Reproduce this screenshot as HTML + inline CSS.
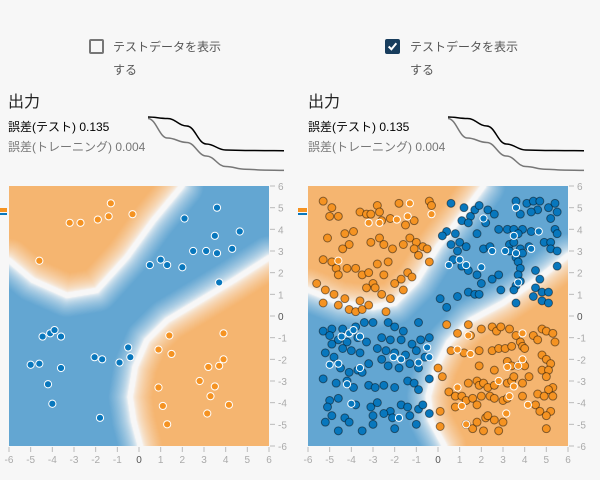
<!DOCTYPE html>
<html><head><meta charset="utf-8">
<style>
body{margin:0;width:600px;height:480px;background:#f7f7f7;font-family:"Liberation Sans","Noto Sans CJK JP",sans-serif;overflow:hidden;position:relative}
.t{position:absolute;white-space:nowrap}
.cb{position:absolute;width:15px;height:15px;border:2px solid #777;border-radius:2px;box-sizing:border-box}
canvas{position:absolute}
svg{position:absolute;left:0;top:0}
</style></head><body>
<div class="cb" style="left:89px;top:39px"></div>
<div class="t" style="left:113px;top:38px;font-size:12px;color:#555">テストデータを表示</div>
<div class="t" style="left:113px;top:61px;font-size:12px;color:#555">する</div>
<div class="cb" style="left:385px;top:39px;background:#183d5d;border-color:#183d5d"><svg width="11" height="11" viewBox="0 0 10 10"><path d="M1.5 5 L4 7.5 L8.5 2" stroke="#fff" stroke-width="1.8" fill="none"/></svg></div>
<div class="t" style="left:410px;top:38px;font-size:12px;color:#555">テストデータを表示</div>
<div class="t" style="left:410px;top:61px;font-size:12px;color:#555">する</div>

<div class="t" style="left:8px;top:88px;font-size:16px;color:#222">出力</div>
<div class="t" style="left:8px;top:118px;font-size:12px;color:#000">誤差(テスト) 0.135</div>
<div class="t" style="left:8px;top:138px;font-size:12px;color:#777">誤差(トレーニング) 0.004</div>
<div class="t" style="left:308px;top:88px;font-size:16px;color:#222">出力</div>
<div class="t" style="left:308px;top:118px;font-size:12px;color:#000">誤差(テスト) 0.135</div>
<div class="t" style="left:308px;top:138px;font-size:12px;color:#777">誤差(トレーニング) 0.004</div>

<canvas id="c0" width="260" height="260" style="left:9px;top:186px"></canvas>
<canvas id="c1" width="260" height="260" style="left:308px;top:186px"></canvas>
<svg id="ov" width="600" height="480"></svg>

<script>
// ---- data ----
const trainOrange=[[-3.2,4.3],[-2.7,4.3],[-1.9,4.45],[-1.4,4.6],[-1.3,5.2],[-0.3,4.7],[-4.6,2.55],[1.4,-0.9],[0.9,-1.55],[1.5,-1.75],[3.9,-0.8],[3.9,-2.0],[3.2,-2.35],[3.7,-2.3],[2.8,-3.0],[3.5,-3.25],[0.9,-3.3],[3.3,-3.7],[1.1,-4.15],[4.15,-4.1],[3.15,-4.5],[1.3,-5.0]];
const trainBlue=[[3.6,5.0],[2.1,4.5],[4.65,3.9],[3.5,3.7],[2.5,3.0],[3.1,3.0],[3.6,2.9],[4.3,3.1],[1.0,2.6],[0.5,2.35],[1.3,2.35],[2.0,2.25],[3.7,1.55],[-4.45,-0.95],[-4.1,-0.8],[-3.9,-0.65],[-3.6,-0.95],[-0.5,-1.45],[-2.05,-1.9],[-1.7,-2.0],[-0.9,-2.15],[-0.4,-1.9],[-5.0,-2.25],[-4.6,-2.2],[-3.6,-2.4],[-4.2,-3.15],[-4.0,-4.05],[-1.8,-4.7]];
const testOrange=[[-5.3,5.3],[-4.9,5.0],[-4.6,4.6],[-5.0,4.6],[-3.6,4.8],[-3.3,4.7],[-3.1,4.7],[-2.8,5.1],[-2.7,4.8],[-2.6,4.4],[-2.2,4.5],[-1.8,5.2],[-1.5,4.2],[-1.1,4.4],[-0.4,5.3],[-0.3,5.1],[-3.9,3.9],[-4.3,3.8],[-5.1,3.6],[-4.1,3.3],[-4.4,3.1],[-3.1,3.4],[-2.7,3.6],[-2.5,3.3],[-2.1,3.1],[-1.6,3.3],[-1.3,3.6],[-1.0,3.4],[-1.1,3.1],[-0.7,3.2],[-0.5,3.1],[-0.9,2.8],[-0.4,2.5],[-5.3,2.6],[-4.9,2.5],[-4.7,2.2],[-4.2,2.2],[-4.6,1.9],[-3.8,2.2],[-3.5,1.9],[-3.2,2.0],[-2.8,2.4],[-2.3,2.5],[-1.7,1.7],[-1.4,2.0],[-2.5,1.9],[-3.0,1.5],[-3.3,1.3],[-2.9,1.3],[-5.6,1.5],[-5.2,1.2],[-4.8,1.0],[-4.3,0.8],[-5.3,0.6],[-4.6,0.5],[-4.1,0.3],[-3.8,0.2],[-3.5,0.3],[-3.2,0.5],[-2.6,1.0],[-2.2,0.8],[-1.6,1.2],[-2.0,1.5],[-3.6,0.7],[-1.2,1.8],[-2.4,0.2],
[0.4,-0.4],[0.9,-0.8],[1.4,-0.4],[1.5,-0.9],[2.0,-0.6],[2.5,-0.5],[2.7,-0.7],[2.9,-0.5],[3.3,-0.6],[3.6,-0.9],[3.8,-1.2],[4.4,-0.9],[4.6,-1.1],[4.8,-0.6],[5.0,-0.7],[5.3,-0.8],[5.4,-1.2],[0.6,-1.6],[1.2,-1.7],[1.9,-1.6],[2.5,-1.6],[2.8,-1.5],[3.1,-1.5],[3.4,-1.4],[3.9,-1.4],[4.0,-1.5],[4.8,-1.8],[5.0,-2.0],[5.2,-2.2],[3.2,-2.1],[3.4,-2.3],[3.7,-2.3],[3.9,-2.1],[4.0,-2.3],[1.9,-2.3],[2.6,-2.5],[0.0,-2.4],[0.2,-2.8],[4.8,-2.5],[5.1,-2.5],[5.0,-2.8],[1.4,-3.1],[1.8,-3.0],[1.9,-3.2],[2.1,-3.1],[2.3,-3.3],[2.6,-3.2],[3.2,-3.1],[3.4,-3.0],[3.5,-2.8],[3.9,-3.1],[4.2,-2.8],[5.3,-3.3],[5.1,-3.4],[0.5,-3.5],[0.8,-3.7],[1.1,-3.7],[1.3,-3.9],[1.6,-3.8],[2.0,-3.7],[2.4,-3.7],[2.6,-3.8],[3.0,-3.9],[3.2,-3.8],[3.9,-3.7],[4.6,-3.6],[4.9,-3.7],[5.3,-3.7],[0.1,-4.4],[0.8,-4.2],[1.8,-4.1],[2.2,-4.7],[2.3,-4.6],[2.6,-4.8],[4.5,-4.1],[4.7,-4.4],[5.2,-4.4],[5.0,-4.6],[0.1,-5.1],[1.3,-5.0],[1.6,-5.2],[1.8,-4.9],[2.1,-5.3],[2.8,-5.3],[3.0,-4.9],[5.0,-5.2]];
const testBlue=[[0.6,5.2],[1.2,5.0],[1.5,4.6],[1.7,4.9],[1.9,5.1],[2.3,4.9],[2.6,4.7],[3.6,5.3],[4.1,5.2],[4.4,5.3],[4.7,5.3],[4.6,4.9],[5.1,5.0],[5.4,5.2],[5.5,4.8],[3.8,4.7],[4.3,4.8],[5.2,4.5],[1.1,4.4],[1.4,4.3],[2.2,4.3],[0.4,3.9],[0.2,3.7],[0.8,3.8],[1.8,3.8],[2.8,4.0],[3.2,4.0],[3.5,4.0],[3.9,4.0],[4.3,3.9],[3.7,3.8],[5.4,4.0],[5.5,3.8],[0.6,3.3],[1.0,3.4],[1.3,3.2],[0.9,3.0],[2.1,3.1],[2.4,3.2],[3.3,3.3],[3.5,3.4],[3.8,3.1],[3.3,3.0],[3.9,2.9],[4.2,3.2],[4.9,3.4],[5.2,3.4],[5.2,3.1],[5.5,3.0],[3.6,2.7],[3.7,2.5],[3.8,2.2],[0.7,2.6],[1.1,2.3],[1.4,2.1],[1.8,1.9],[2.0,1.5],[2.5,1.7],[2.8,1.9],[3.7,1.9],[3.8,1.6],[4.5,2.1],[5.5,2.3],[4.7,1.7],[3.6,1.4],[3.5,1.2],[4.5,1.3],[4.8,1.1],[5.1,1.1],[4.4,0.9],[4.8,0.7],[5.1,0.6],[2.9,1.2],[1.4,1.1],[1.7,1.0],[1.9,1.0],[0.9,0.9],[0.1,0.8],[0.4,0.4],[3.6,0.6],
[-5.3,-0.7],[-4.9,-0.6],[-4.4,-0.6],[-3.8,-0.5],[-3.4,-0.3],[-3.0,-0.3],[-2.3,-0.3],[-2.0,-0.5],[-1.6,-0.7],[-0.9,-0.3],[-5.0,-0.9],[-4.6,-1.1],[-4.2,-1.2],[-3.7,-1.0],[-3.3,-1.2],[-2.6,-1.0],[-2.2,-1.1],[-1.7,-1.1],[-1.2,-1.3],[-0.8,-1.1],[-0.4,-1.0],[-4.9,-1.3],[-4.4,-1.5],[-4.0,-1.6],[-5.2,-1.7],[-4.8,-1.9],[-3.6,-1.7],[-2.8,-1.5],[-2.4,-1.6],[-2.0,-1.7],[-1.5,-1.8],[-1.0,-1.6],[-0.6,-1.9],[-3.2,-2.2],[-2.6,-2.0],[-2.3,-2.3],[-1.8,-2.4],[-1.3,-2.2],[-0.9,-2.4],[-4.5,-2.4],[-4.1,-2.6],[-3.7,-2.5],[-3.5,-2.6],[-5.3,-2.9],[-4.7,-3.1],[-4.2,-3.0],[-3.9,-3.3],[-3.2,-3.2],[-2.9,-3.3],[-2.5,-3.2],[-2.0,-3.3],[-1.4,-3.0],[-1.1,-3.1],[-0.9,-3.4],[-0.4,-2.9],[-5.0,-3.9],[-4.6,-3.8],[-3.8,-4.1],[-3.1,-4.2],[-2.8,-4.0],[-2.2,-4.4],[-1.7,-4.1],[-1.4,-4.2],[-0.9,-4.3],[-0.7,-4.1],[-4.9,-4.6],[-5.2,-4.9],[-4.3,-4.7],[-4.1,-4.9],[-3.0,-4.6],[-2.5,-4.5],[-2.1,-4.7],[-3.0,-5.0],[-1.3,-4.6],[-0.4,-4.5],[-5.1,-4.2],[-2.0,-5.2],[-3.5,-5.3],[-4.6,-5.3],[-1.0,-5.0]];
const ticks=[-6,-5,-4,-3,-2,-1,0,1,2,3,4,5,6];
const lossTest=[0.36,0.35,0.3,0.18,0.14,0.137,0.136,0.135];
const lossTrain=[0.35,0.22,0.19,0.1,0.03,0.012,0.006,0.004];
const bTL=[[[-6,2.57],[-4.9,1.65],[-3.33,0.95],[-1.95,1.18],[-0.56,2.72],[0.67,4.42],[1.98,6]],[[-6,1.2],[-4.5,0.6],[-3,0.4],[-2,0.6],[-1,1.6],[0,3.2],[1,4.5],[2.1,6]]];
const bBR=[[[0.06,-6],[-0.25,-4.82],[-0.41,-3.74],[-0.18,-2.35],[0.36,-1.12],[1.29,-0.2],[2.83,0.72],[4.37,1.65],[6,2.69]],[[0.3,-6],[-0.35,-4.8],[-0.45,-3.7],[-0.1,-2.4],[0.5,-1.2],[1.5,-0.2],[3.0,0.6],[4.6,1.7],[6,2.8]]];

const NS='http://www.w3.org/2000/svg';
const ov=document.getElementById('ov');
const plotLeft=[9,308];
function sx(p,v){return plotLeft[p]+(v+6)*260/12;}
function sy(v){return 186+(6-v)*260/12;}
function mk(tag,attrs){const e=document.createElementNS(NS,tag);for(const k in attrs)e.setAttribute(k,attrs[k]);ov.appendChild(e);return e;}
function interp(pts,xv,ix,iy){for(let i=0;i<pts.length-1;i++){const a=pts[i],b=pts[i+1];if(xv>=a[ix]&&xv<=b[ix]){const t=(xv-a[ix])/(b[ix]-a[ix]);return a[iy]+t*(b[iy]-a[iy]);}}return null;}
function segDist(px,py,pts){let m=1e9;for(let i=0;i<pts.length-1;i++){const a=pts[i],b=pts[i+1];const dx=b[0]-a[0],dy=b[1]-a[1];let t=((px-a[0])*dx+(py-a[1])*dy)/(dx*dx+dy*dy);t=Math.max(0,Math.min(1,t));const ex=a[0]+t*dx-px,ey=a[1]+t*dy-py;m=Math.min(m,Math.hypot(ex,ey));}return m;}
function drawHeat(p){
  const c=document.getElementById('c'+p),ctx=c.getContext('2d'),img=ctx.createImageData(260,260);
  const tl=bTL[p],br=bBR[p];
  for(let j=0;j<260;j++)for(let i=0;i<260;i++){
    const x=-6+(i+0.5)*12/260,y=6-(j+0.5)*12/260;
    let orange=false;
    const y1=interp(tl,x,0,1);
    if(y1!==null&&y>y1)orange=true;
    if(y<br[br.length-1][1]){const xb=interp(br,y,1,0);if(xb!==null&&x>xb)orange=true;}
    const d=Math.min(segDist(x,y,tl),segDist(x,y,br));
    let t=d<0.12?0:Math.min(1,(d-0.12)/0.9);t=Math.pow(t,0.6);
    const col=orange?[245,181,112]:[99,166,210];
    const k=(j*260+i)*4;
    img.data[k]=Math.round(247+(col[0]-247)*t);img.data[k+1]=Math.round(247+(col[1]-247)*t);img.data[k+2]=Math.round(247+(col[2]-247)*t);img.data[k+3]=255;
  }
  ctx.putImageData(img,0,0);
}
drawHeat(0);drawHeat(1);

[0,300].forEach((ox,p)=>{
  ticks.forEach(v=>{
    const l=mk('line',{x1:sx(p,6)+1,x2:sx(p,6)+6,y1:sy(v),y2:sy(v),stroke:'#bbb'});
    
    
    const t=mk('text',{x:sx(p,6)+9,y:sy(v)+4,'font-size':10,fill:v===0?'#555':'#aaa','font-family':'Liberation Sans'});
    t.textContent=v;
    
    
    const l2=mk('line',{x1:sx(p,v),x2:sx(p,v),y1:447,y2:452,stroke:'#bbb'});
    
    
    const t2=mk('text',{x:sx(p,v),y:463,'font-size':10,fill:v===0?'#555':'#aaa','text-anchor':'middle','font-family':'Liberation Sans'});
    t2.textContent=v;
    
    
  });
  const r1=mk('rect',{x:ox-2,y:208,width:9,height:4,fill:'#f59322'});
  
  
  const r2=mk('rect',{x:ox-2,y:213,width:9,height:2,fill:'#0877bd'});
  
  
  const lx=i=>ox+148+i*(136/(lossTest.length-1)), ly=v=>171-v*150;
  [[lossTrain,'#777'],[lossTest,'#000']].forEach(([arr,col])=>{
    let d='';arr.forEach((v,i)=>{const X=lx(i),Y=ly(v);if(i===0)d+='M'+X+' '+Y;else{const px=lx(i-1),py=ly(arr[i-1]);d+=' C'+(px+8)+' '+py+' '+(X-8)+' '+Y+' '+X+' '+Y;}});
    const pth=mk('path',{d:d,stroke:col,'stroke-width':1.5,fill:'none'});
    
    
  });
  if(p===1){
    testOrange.forEach(q=>{const c=mk('circle',{cx:sx(p,q[0]),cy:sy(q[1]),r:4,fill:'#f59322',stroke:'rgba(0,0,0,0.45)'});
      
      });
    testBlue.forEach(q=>{const c=mk('circle',{cx:sx(p,q[0]),cy:sy(q[1]),r:4,fill:'#0877bd',stroke:'rgba(0,0,0,0.45)'});
      
      });
  }
  trainOrange.forEach(q=>{const c=mk('circle',{cx:sx(p,q[0]),cy:sy(q[1]),r:3.6,fill:'#f59322',stroke:'#fff'});
    
    });
  trainBlue.forEach(q=>{const c=mk('circle',{cx:sx(p,q[0]),cy:sy(q[1]),r:3.6,fill:'#0877bd',stroke:'#fff'});
    
    });
});
</script>
</body></html>
